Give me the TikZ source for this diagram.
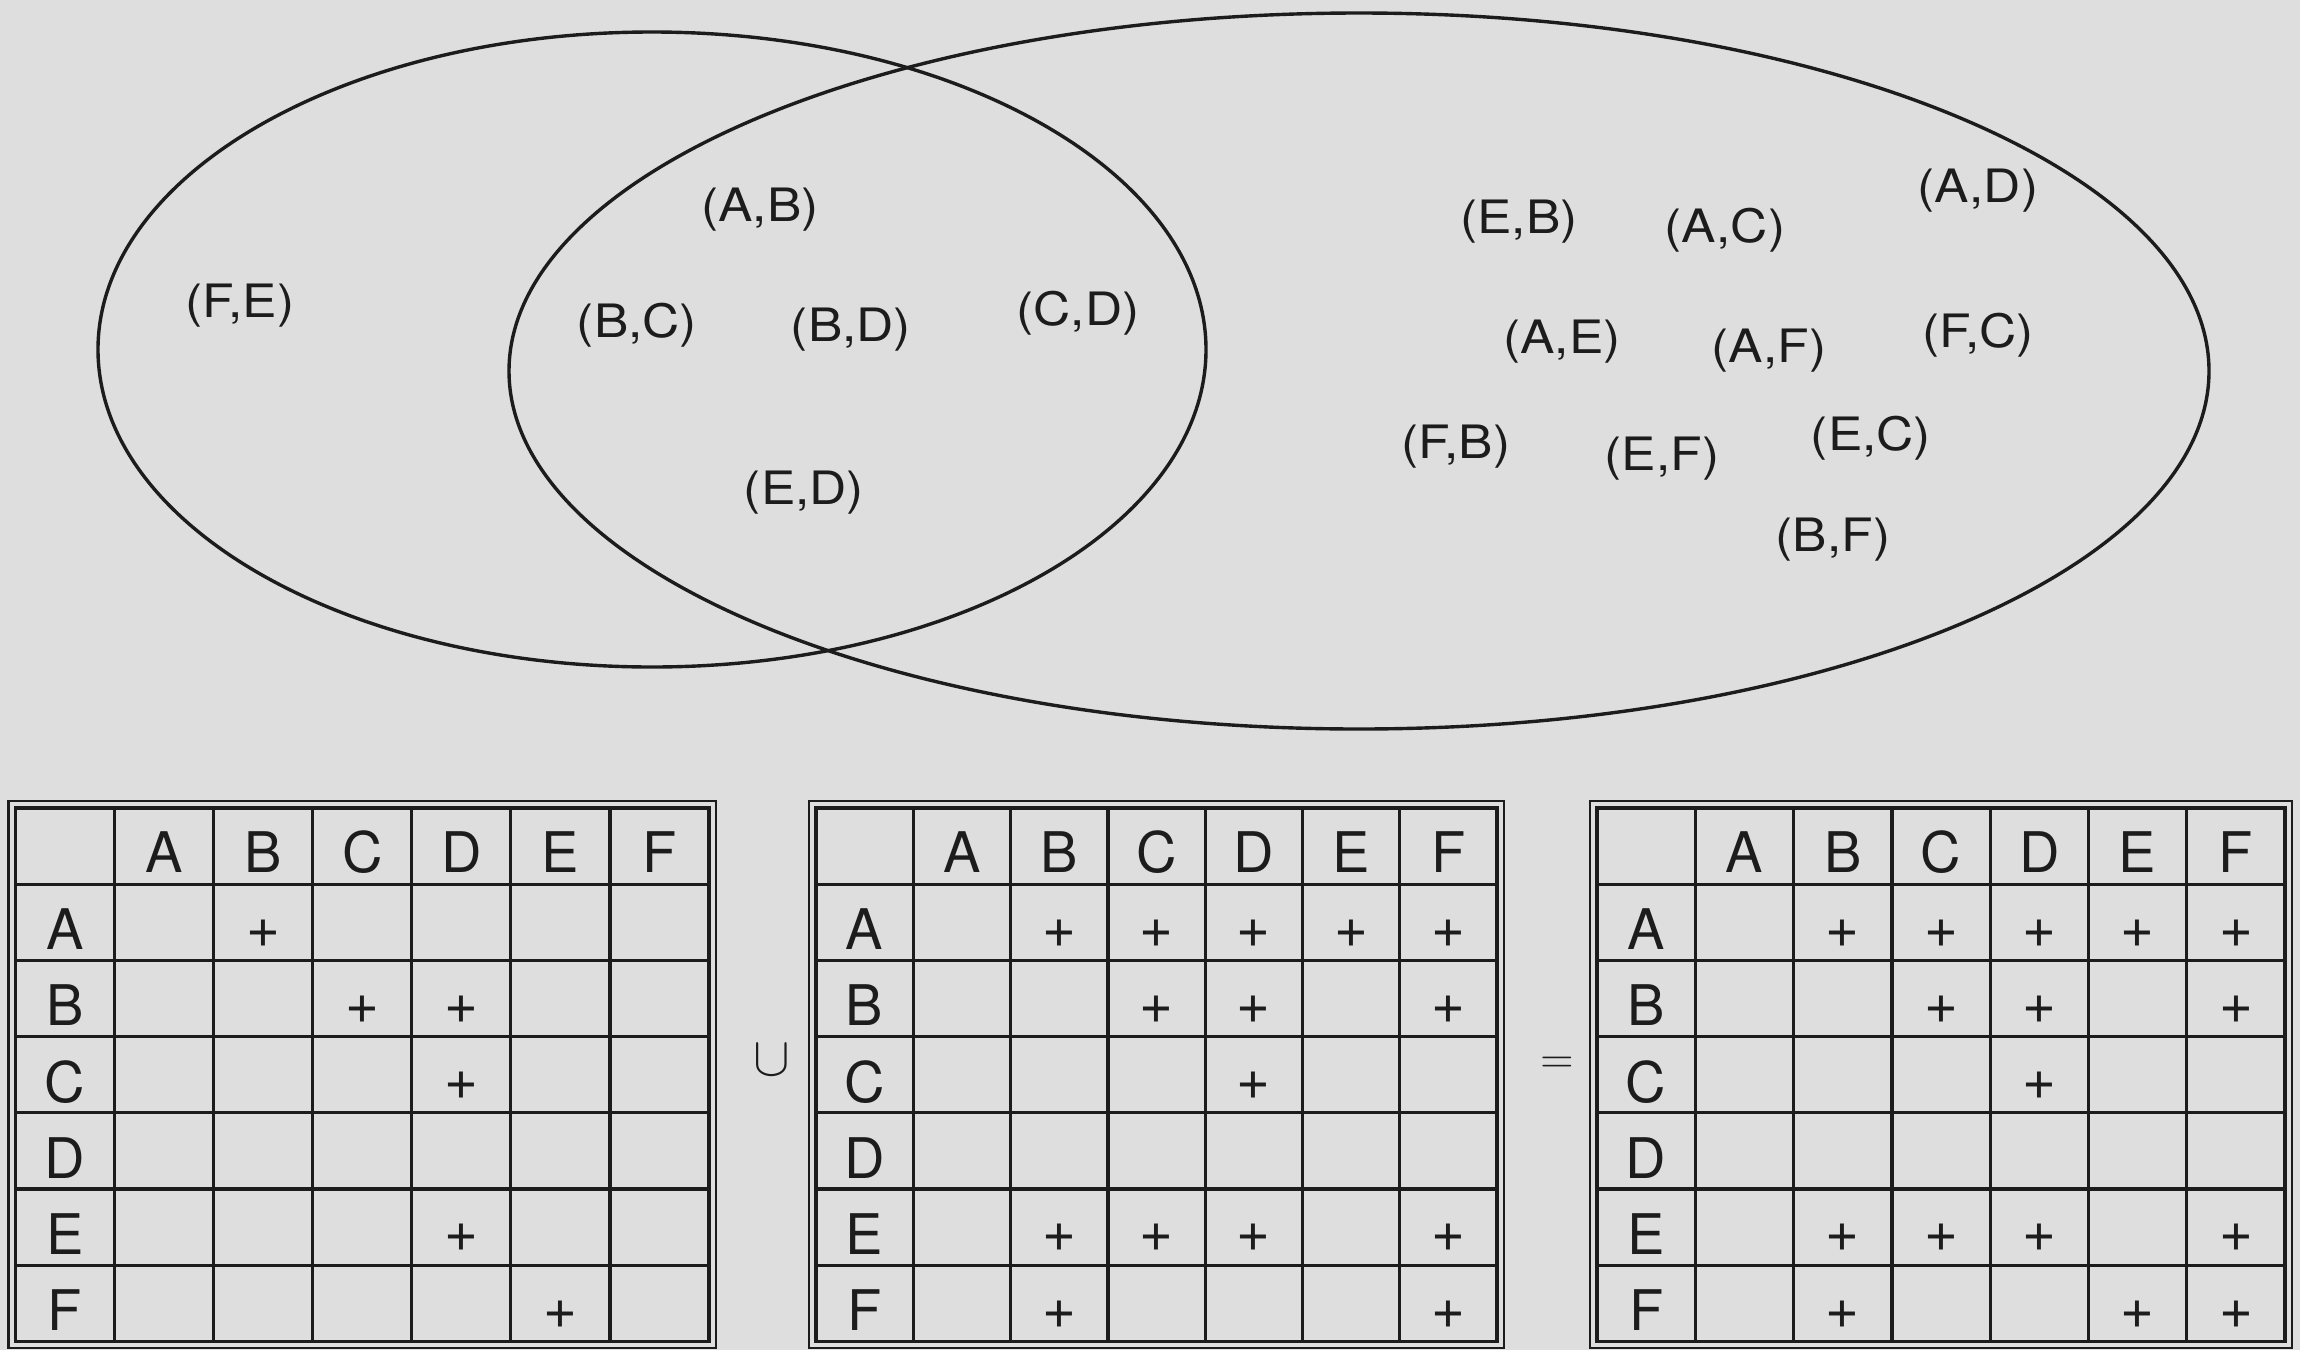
\RequirePackage{fix-cm}
\documentclass[tikz,border=0pt]{standalone}
\usepackage{fontspec}
\setmainfont{TeX Gyre Heros}
\newfontfamily\labfont[FakeStretch=1.12]{TeX Gyre Heros}
\definecolor{paper}{RGB}{222,222,222}
\definecolor{ink}{RGB}{28,28,28}
\tikzset{
  ell/.style={draw=ink, line width=3.4pt},
  gridline/.style={draw=ink, line width=3.2pt},
  innerline/.style={draw=ink, line width=3.6pt},
  outerline/.style={draw=ink, line width=2.6pt},
  pair/.style={inner sep=0pt, text=ink, font=\labfont\fontsize{46}{50}\selectfont},
  hdr/.style={inner sep=0pt, text=ink, font=\fontsize{56}{60}\selectfont},
  plus/.style={inner sep=0pt, text=ink, font=\fontsize{58}{60}\selectfont},
  opsym/.style={inner sep=0pt, text=ink},
}
\newcommand\relgrid[4]{%
  \pgfmathsetmacro\gx{#2}%
  \pgfmathsetmacro\gw{#3}%
  \pgfmathsetmacro\gr{#2+7*#3}%
  \draw[outerline] (\gx-7,801) rectangle (\gr+7,1348);
  \draw[innerline] (\gx,808) rectangle (\gr,1341.4);
  \foreach \i in {1,...,6} {
    \draw[gridline] (\gx+\i*\gw,808) -- (\gx+\i*\gw,1341.4);
    \draw[gridline] (\gx,808+\i*76.2) -- (\gr,808+\i*76.2);
  }
  \foreach \l [count=\i] in {A,B,C,D,E,F} {
    \node[hdr] (#1h\l) at (\gx+\i*\gw+0.5*\gw, 846+6) {\l};
    \node[hdr] (#1r\l) at (\gx+0.5*\gw, 808+\i*76.2+38.1+7) {\l};
  }
  \foreach \r/\c in {#4} {
    \node[plus] (#1p\r\c) at (\gx+\c*\gw+0.5*\gw, 808+\r*76.2+38.1+11) {+};
  }
}
\begin{document}
\begin{tikzpicture}[x=1pt,y=-1pt]
\fill[paper] (0,0) rectangle (2300,1350);
\useasboundingbox (0,0) rectangle (2300,1350);
% ellipses
\draw[ell] (652,349.5) ellipse [x radius=554pt, y radius=317.5pt];
\draw[ell] (1359,371) ellipse [x radius=850pt, y radius=358pt];
% pairs
\node[pair] (FE) at (240,306) {(F,E)};
\node[pair] (AB) at (760,210) {(A,B)};
\node[pair] (BC) at (637,325) {(B,C)};
\node[pair] (BD) at (851,330) {(B,D)};
\node[pair] (CD) at (1078,313) {(C,D)};
\node[pair] (ED) at (804,493) {(E,D)};
\node[pair] (EB) at (1519,222) {(E,B)};
\node[pair] (AC) at (1725,230) {(A,C)};
\node[pair] (AD) at (1978,191) {(A,D)};
\node[pair] (AE) at (1562,342) {(A,E)};
\node[pair] (AF) at (1769,351) {(A,F)};
\node[pair] (FC) at (1978,335) {(F,C)};
\node[pair] (FB) at (1456,447) {(F,B)};
\node[pair] (EF) at (1662,459) {(E,F)};
\node[pair] (EC) at (1871,438) {(E,C)};
\node[pair] (BF) at (1833,540) {(B,F)};
% grids
\relgrid{L}{15.5}{99.07}{1/2,2/3,2/4,3/4,5/4,6/5}
\relgrid{M}{816}{97.3}{1/2,1/3,1/4,1/5,1/6,2/3,2/4,2/6,3/4,5/2,5/3,5/4,5/6,6/2,6/6}
\relgrid{R}{1597}{98.3}{1/2,1/3,1/4,1/5,1/6,2/3,2/4,2/6,3/4,5/2,5/3,5/4,5/6,6/2,6/5,6/6}
% operators
\node[opsym, font=\fontsize{55}{60}\selectfont] (cup) at (772,1060) {$\cup$};
\node[opsym, font=\fontsize{46}{50}\selectfont] (eq) at (1557,1065) {$=$};
\end{tikzpicture}
\end{document}
